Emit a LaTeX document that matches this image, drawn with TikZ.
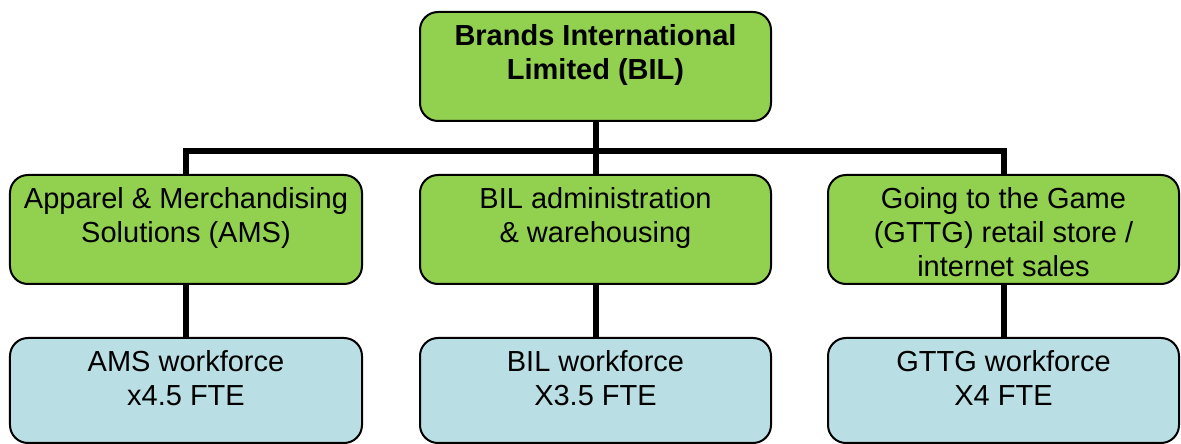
\documentclass[tikz,border=0pt]{standalone}
\usepackage{fontspec}
\setmainfont{Liberation Sans}
\definecolor{boxgreen}{HTML}{92D050}
\definecolor{boxblue}{HTML}{B9DFE4}
\newcommand{\boxtxt}[3]{\parbox[c][#2][t]{#1}{\fontsize{29bp}{34bp}\selectfont\centering\rule{0pt}{34bp}#3\par}}
\tikzset{
  orgbox/.style={draw=black, line width=2bp, rounded corners=18bp, inner sep=0pt, outer sep=0pt},
  greenbox/.style={orgbox, fill=boxgreen},
  bluebox/.style={orgbox, fill=boxblue},
  link/.style={line width=6bp, draw=black}
}
\begin{document}
\begin{tikzpicture}[x=1bp,y=-1bp]
\useasboundingbox (0,0) rectangle (1181,444);
\node[greenbox] (top) at (595.5,66.5) {\boxtxt{351bp}{109bp}{\textbf{Brands International}\\\textbf{Limited (BIL)}}};
\node[greenbox] (ams) at (186,229.5) {\boxtxt{352bp}{109bp}{Apparel \& Merchandising\\Solutions (AMS)}};
\node[greenbox] (adm) at (595.5,229.5) {\boxtxt{351bp}{109bp}{BIL administration\\\& warehousing}};
\node[greenbox] (gttg) at (1003.5,229.5) {\boxtxt{351bp}{109bp}{Going to the Game\\(GTTG) retail store /\\internet sales}};
\node[bluebox] (amsw) at (186,390.5) {\boxtxt{352bp}{105bp}{AMS workforce\\x4.5 FTE}};
\node[bluebox] (admw) at (595.5,390.5) {\boxtxt{351bp}{105bp}{BIL workforce\\X3.5 FTE}};
\node[bluebox] (gttgw) at (1003.5,390.5) {\boxtxt{351bp}{105bp}{GTTG workforce\\X4 FTE}};
\coordinate (bus) at (595.5,151);
\draw[link] (top.south) -- (bus);
\draw[link] (ams.north) |- (bus) -| (gttg.north);
\draw[link] (bus) -- (adm.north);
\draw[link] (ams.south) -- (amsw.north);
\draw[link] (adm.south) -- (admw.north);
\draw[link] (gttg.south) -- (gttgw.north);
\end{tikzpicture}
\end{document}
